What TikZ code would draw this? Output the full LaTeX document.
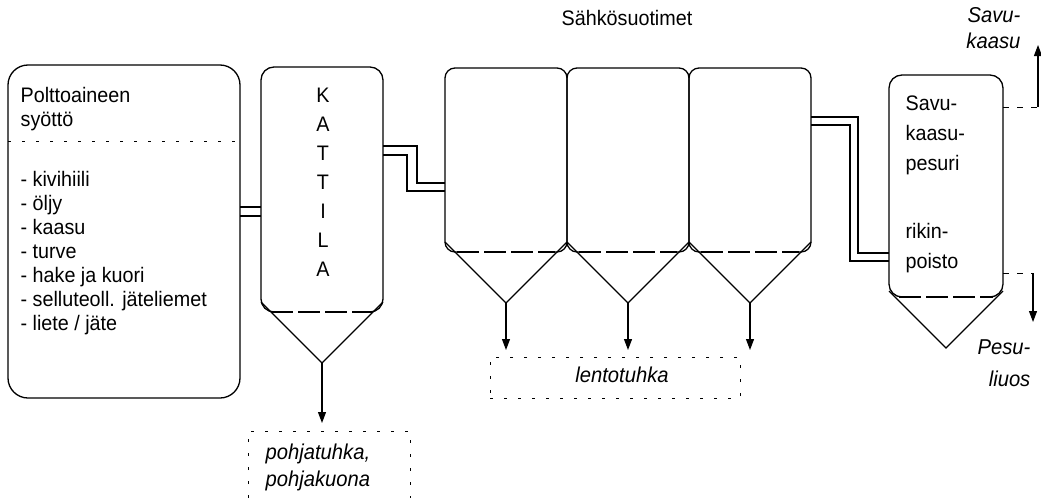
\documentclass[tikz,border=0pt]{standalone}
\usepackage{fontspec}
\setmainfont{Liberation Sans}[FakeStretch=0.94]
\usetikzlibrary{arrows.meta}
\begin{document}
\begin{tikzpicture}[x=1pt,y=-1pt,line width=1.3pt,
  txt/.style={font=\fontsize{21}{24}\selectfont,inner sep=0pt,text height=15pt,text depth=4pt},
  itx/.style={txt,font=\fontsize{21.5}{24}\selectfont\itshape},
  sparse/.style={line width=1pt,dash pattern=on 3pt off 11pt},
  seam/.style={line width=1.1pt,dash pattern=on 22pt off 5pt},
  arr/.style={line width=1.1pt,-{Triangle[length=11pt,width=8pt]}},
  duct/.style={line width=1.1pt}]
\useasboundingbox (0,0) rectangle (1041,498);

% fuel feed
\node[draw,rounded corners=20pt,minimum width=232pt,minimum height=333pt,inner sep=0pt] (feed) at (124,231.5) {};
\draw[sparse] (8,141) -- (240,141);
\node[txt,anchor=west] (f0) at (20,97) {Polttoaineen};
\node[txt,anchor=west] (f1) at (20,121) {syöttö};
\foreach \t [count=\i] in {- kivihiili,- öljy,- kaasu,- turve,- hake ja kuori,- selluteoll. jäteliemet,- liete / jäte}
  \node[txt,anchor=west] (fl\i) at (20,{157+24*\i}) {\t};

% boiler
\draw[rounded corners=13pt] (271,312) -| (261,67) -| (383,312) -- (373,312);
\draw[seam] (271,312) -- (373,312);
\draw (261,302) -- (322,363) coordinate (kap) -- (383,302);
\foreach \c [count=\i] in {K,A,T,T,I,L,A}
  \node[txt] (k\i) at (323,{68+29*\i}) {\c};

% duct feed -> boiler
\draw[duct] (240,207) -- (261,207) (240,216) -- (261,216);

% electrostatic precipitators
\node[txt] (esp) at (627,20) {Sähkösuotimet};
\foreach \xl/\n in {445/1,567/2,689/3}{
  \draw[rounded corners=10pt] (\xl+12,252) -| (\xl,68) -| (\xl+122,252) -- (\xl+110,252);
  \draw[seam] (\xl+12,252) -- (\xl+110,252);
  \draw (\xl,242) -- (\xl+61,303) coordinate (e\n) -- (\xl+122,242);
  \coordinate (et\n) at (\xl+61,350);
  \draw[arr] (e\n) -- (et\n);
}

% duct boiler -> precipitators
\draw[duct] (383,146) -| (417,183) -- (445,183);
\draw[duct] (383,155) -| (407,191) -- (445,191);

% scrubber
\draw[rounded corners=13pt] (899,297) -| (889,75) -| (1003,297) -- (993,297);
\draw[seam] (899,297) -- (993,297);
\draw (889,291) -- (946,348) coordinate (sap) -- (1003,291);
\node[txt,anchor=west] (s1) at (905,105) {Savu-};
\node[txt,anchor=west] (s2) at (905,135) {kaasu-};
\node[txt,anchor=west] (s3) at (905,165) {pesuri};
\node[txt,anchor=west] (s4) at (905,233) {rikin-};
\node[txt,anchor=west] (s5) at (905,263) {poisto};

% duct precipitators -> scrubber
\draw[duct] (811,117) -| (858,253) -- (889,253);
\draw[duct] (811,125) -| (850,261) -- (889,261);

% flue gas out
\coordinate (fgo) at (1003,107);
\coordinate (fgc) at (1038,107);
\coordinate (fgt) at (1038,45);
\draw[sparse,dash pattern=on 6pt off 8pt] (fgo) -- (fgc);
\draw[arr] (fgc) -- (fgt);
\node[itx,anchor=east] (fg1) at (1021,17) {Savu-};
\node[itx,anchor=east] (fg2) at (1021,43) {kaasu};

% scrubbing liquor out
\coordinate (lqo) at (1003,273);
\coordinate (lqc) at (1033,273);
\coordinate (lqt) at (1033,322);
\draw[sparse,dash pattern=on 6pt off 8pt] (lqo) -- (lqc);
\draw[arr] (lqc) -- (lqt);
\node[itx,anchor=east] (lq1) at (1031,349) {Pesu-};
\node[itx,anchor=east] (lq2) at (1031,381) {liuos};

% fly ash
\node[draw,sparse,minimum width=250pt,minimum height=41pt,inner sep=0pt] (fly) at (615,377.5) {};
\node[itx] (flyt) at (622,377) {lentotuhka};

% bottom ash
\coordinate (kat) at (322,423);
\draw[arr] (kap) -- (kat);
\draw[sparse] (248,498) |- (410,431) -- (410,498);
\node[itx,anchor=west] (b1) at (265,454) {pohjatuhka,};
\node[itx,anchor=west] (b2) at (265,481) {pohjakuona};
\end{tikzpicture}
\end{document}
